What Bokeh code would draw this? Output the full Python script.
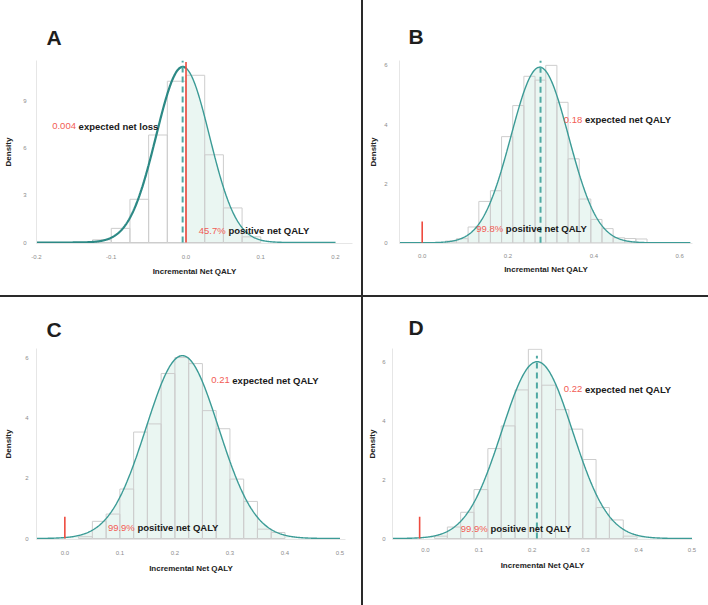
import numpy as np
from bokeh.plotting import figure
from bokeh.layouts import row, column
from bokeh.models import Label, Div, Range1d, FixedTicker, NumeralTickFormatter
from bokeh.embed import file_html
from bokeh.resources import INLINE

# ---------------- data ----------------
panel_letters = ["A", "B", "C", "D"]

a_edges = [-0.125, -0.1, -0.075, -0.05, -0.025, 0.0, 0.025, 0.05, 0.075, 0.1]
a_heights = [0.17, 0.90, 2.75, 6.84, 10.26, 10.64, 5.58, 2.20, 0.36]

b_edges = [0.054, 0.080, 0.107, 0.132, 0.159, 0.185, 0.211, 0.237, 0.263, 0.288,
           0.314, 0.340, 0.366, 0.393, 0.419, 0.445, 0.472, 0.498, 0.524]
b_heights = [0.06, 0.14, 0.535, 1.40, 1.76, 3.59, 4.64, 5.63, 5.50, 6.00,
             4.75, 2.84, 1.48, 0.79, 0.48, 0.17, 0.145, 0.13]

c_edges = [0.025, 0.05, 0.075, 0.1, 0.125, 0.15, 0.175, 0.2, 0.225, 0.25,
           0.275, 0.3, 0.325, 0.35, 0.375, 0.4]
c_heights = [0.06, 0.57, 0.81, 1.64, 3.53, 3.80, 5.47, 6.00, 5.80, 4.24,
             3.64, 1.97, 1.23, 0.31, 0.20]

d_edges = [0.017, 0.041, 0.066, 0.091, 0.117, 0.142, 0.168, 0.193, 0.218, 0.244,
           0.269, 0.295, 0.320, 0.345, 0.371, 0.397]
d_heights = [0.08, 0.39, 0.89, 1.66, 3.05, 3.82, 5.04, 6.42, 5.20, 4.37,
             3.71, 2.68, 1.05, 0.63, 0.08]

# fitted normal density (mean, sd) per panel
fit_means = [-0.0043, 0.274, 0.2135, 0.2095]
fit_sds = [0.0357, 0.0672, 0.0658, 0.0665]
curve_ends = [0.2, 0.625, 0.5, 0.5]

# expected value marker (dashed) and zero marker (red)
mean_line_x = [-0.0045, 0.2758, None, 0.209]
mean_line_top = [11.58, 6.16, None, 6.2]
zero_line_x = [0.0, 0.0, 0.0, -0.011]
zero_line_top = [11.49, 0.72, 0.72, 0.74]

# annotations: (red value, black text, x, y)
notes = [
    [("0.004", "expected net loss", -0.179, 7.41), ("45.7%", "positive net QALY", 0.0171, 0.755)],
    [("0.18", "expected net QALY", 0.330, 4.157), ("99.8%", "positive net QALY", 0.126, 0.478)],
    [("0.21", "expected net QALY", 0.266, 5.25), ("99.9%", "positive net QALY", 0.0782, 0.366)],
    [("0.22", "expected net QALY", 0.2595, 5.07), ("99.9%", "positive net QALY", 0.0662, 0.355)],
]

x_ticks = [[-0.2, -0.1, 0.0, 0.1, 0.2], [0.0, 0.2, 0.4, 0.6],
           [0.0, 0.1, 0.2, 0.3, 0.4, 0.5], [0.0, 0.1, 0.2, 0.3, 0.4, 0.5]]
y_ticks = [[0, 3, 6, 9], [0, 2, 4, 6], [0, 2, 4, 6], [0, 2, 4, 6]]

x_title = "Incremental Net QALY"
y_title = "Density"

# ---------------- styling / geometry ----------------
FONT = "Liberation Sans"
TEAL = "#3b9b96"
TEAL_DARK = "#2c8985"
DASH = "#4fa9a3"
RED = "#ee4b3f"
RED_TXT = "#f25c54"
FILL = "#eaf6f2"
BAR = "#cdcdcd"

geo = [
    dict(w=361, h=295, xr=(-0.2, 0.2227), yr=(-0.063, 11.58), b=(36, 9, 58, 52),
         toff=10, tst=24, ymls=4, yals=7, xmls=5, xals=5),
    dict(w=345, h=295, xr=(-0.0529, 0.630), yr=(-0.023, 6.164), b=(36, 16, 60, 50),
         toff=9, tst=26, ymls=6, yals=3, xmls=4, xals=4),
    dict(w=361, h=308, xr=(-0.0515, 0.510), yr=(-0.033, 6.30), b=(36, 16, 51, 66),
         toff=10, tst=15, ymls=2, yals=9, xmls=5, xals=6),
    dict(w=345, h=308, xr=(-0.0619, 0.5009), yr=(-0.033, 6.445), b=(29, 16, 49, 64),
         toff=16, tst=20, ymls=1, yals=2, xmls=2, xals=6),
]
red_offsets = {"0.004": 26.4, "45.7%": 29.6, "99.8%": 29.6, "99.9%": 29.6,
               "0.18": 21.1, "0.21": 21.1, "0.22": 21.1}

edges_all = [a_edges, b_edges, c_edges, d_edges]
heights_all = [a_heights, b_heights, c_heights, d_heights]


def normal_pdf(x, m, s):
    return np.exp(-0.5 * ((x - m) / s) ** 2) / (s * np.sqrt(2 * np.pi))


def make_panel(i):
    g = geo[i]
    p = figure(width=g["w"], height=g["h"],
               x_range=Range1d(*g["xr"]), y_range=Range1d(*g["yr"]),
               output_backend="svg", toolbar_location=None,
               min_border_left=g["b"][0], min_border_right=g["b"][1],
               min_border_top=g["b"][2], min_border_bottom=g["b"][3])
    p.outline_line_color = None
    p.background_fill_color = "white"
    p.border_fill_color = "white"
    p.xgrid.visible = False
    p.ygrid.visible = False

    p.title.text = panel_letters[i]
    p.title.text_font = FONT
    p.title.text_font_size = "21px"
    p.title.text_font_style = "bold"
    p.title.text_color = "#1e1e1e"
    p.title.align = "left"
    p.title.offset = g["toff"]
    p.title.standoff = g["tst"]

    for ax in (p.xaxis[0], p.yaxis[0]):
        ax.axis_line_color = "#e6e6e6"
        ax.axis_line_width = 1
        ax.major_tick_line_color = None
        ax.minor_tick_line_color = None
        ax.major_label_text_font = FONT
        ax.major_label_text_font_size = "6px"
        ax.major_label_text_color = "#8c8c8c"
        ax.axis_label_text_font = FONT
        ax.axis_label_text_font_size = "8px"
        ax.axis_label_text_font_style = "bold"
        ax.axis_label_text_color = "#222222"

    p.xaxis.ticker = FixedTicker(ticks=x_ticks[i])
    p.xaxis.formatter = NumeralTickFormatter(format="0.0")
    p.xaxis.axis_label = x_title
    p.xaxis.major_label_standoff = g["xmls"]
    p.xaxis.axis_label_standoff = g["xals"]

    p.yaxis.ticker = FixedTicker(ticks=y_ticks[i])
    p.yaxis.axis_label = y_title
    p.yaxis.major_label_standoff = g["ymls"]
    p.yaxis.axis_label_standoff = g["yals"]
    p.yaxis.major_label_orientation = "horizontal"

    m, s = fit_means[i], fit_sds[i]
    x_start = max(g["xr"][0], -0.2)
    xs = np.linspace(x_start, curve_ends[i], 500)
    ys = normal_pdf(xs, m, s)

    # area under curve for positive values
    xf = np.linspace(0.0, curve_ends[i], 400)
    p.varea(x=xf, y1=0, y2=normal_pdf(xf, m, s), fill_color=FILL)

    # histogram
    e = edges_all[i]
    p.quad(left=e[:-1], right=e[1:], bottom=0, top=heights_all[i],
           fill_color=None, line_color=BAR, line_width=1)

    # density curve
    if i == 0:
        xl = np.linspace(x_start, 0.0, 300)
        xr_ = np.linspace(0.0, curve_ends[i], 300)
        p.line(xr_, normal_pdf(xr_, m, s), line_color=TEAL, line_width=1.4)
        p.line(xl, normal_pdf(xl, m, s), line_color=TEAL_DARK, line_width=2.2)
    else:
        p.line(xs, ys, line_color=TEAL, line_width=1.4)

    # expected value dashed line
    if mean_line_x[i] is not None:
        p.segment(x0=[mean_line_x[i]], y0=[0], x1=[mean_line_x[i]], y1=[mean_line_top[i]],
                  line_color=DASH, line_width=2, line_dash="6 4")
    # zero line
    p.segment(x0=[zero_line_x[i]], y0=[0], x1=[zero_line_x[i]], y1=[zero_line_top[i]],
              line_color=RED, line_width=1.6)

    for red, black, x, y in notes[i]:
        p.add_layout(Label(x=x, y=y, text=red, text_color=RED_TXT, text_font=FONT,
                           text_font_size="9.5px", text_baseline="middle", text_align="left"))
        p.add_layout(Label(x=x, y=y, text=black, text_color="#1a1a1a", text_font=FONT,
                           text_font_size="9.5px", text_font_style="bold",
                           text_baseline="middle", text_align="left",
                           x_offset=red_offsets[red]))
    return p


panels = [make_panel(i) for i in range(4)]

SEP = "#2a2a2a"
v1 = Div(width=2, height=295, margin=0, styles={"background-color": SEP})
v2 = Div(width=2, height=308, margin=0, styles={"background-color": SEP})
hsep = Div(width=708, height=2, margin=0, styles={"background-color": SEP})

layout = column(row(panels[0], v1, panels[1]), hsep, row(panels[2], v2, panels[3]))

open("out.html", "w").write(file_html(layout, INLINE))
